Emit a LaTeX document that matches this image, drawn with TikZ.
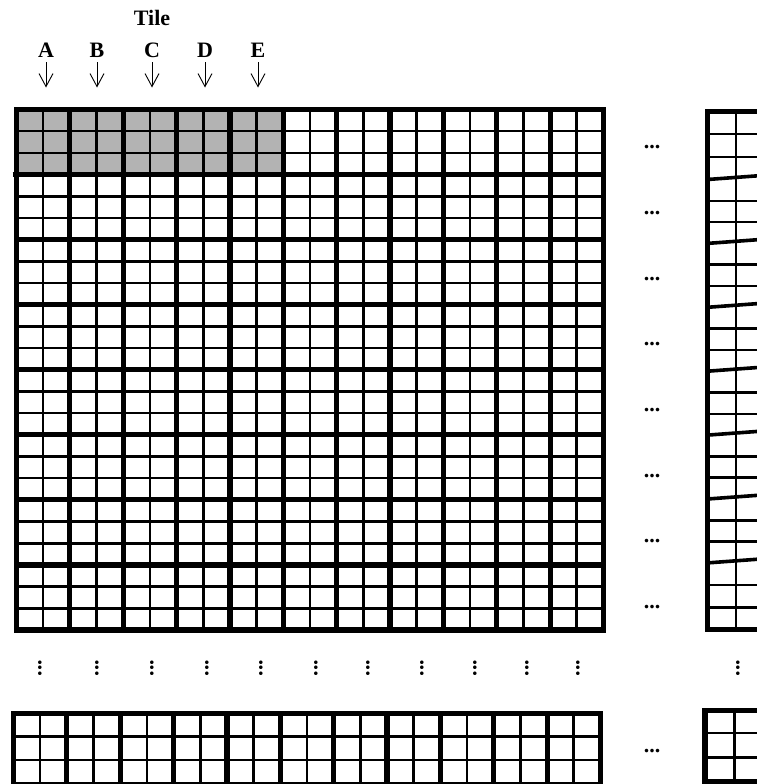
\documentclass[tikz,border=0pt]{standalone}
\usepackage{fontspec}
\setmainfont{Liberation Serif}
\usetikzlibrary{arrows.meta}
\definecolor{tilegray}{RGB}{179,179,179}
\begin{document}
\begin{tikzpicture}[x=1pt,y=-1pt,
  thinline/.style={line width=2.6pt},
  thickline/.style={line width=5.2pt},
  slantline/.style={line width=3.6pt},
  lbl/.style={font=\fontsize{22}{22}\selectfont\bfseries, inner sep=0pt, outer sep=5pt},
  dotstxt/.style={font=\fontsize{22}{22}\selectfont\bfseries, inner sep=0pt},
  arr/.style={line width=0.9pt, -{Straight Barb[length=13pt,width=14pt,line width=0.9pt]}},
  ]
\useasboundingbox (0,0) rectangle (757,784);
\clip (0,0) rectangle (757,784);
% title and tile labels
\node[lbl] (title) at (152,18) {Tile};
\foreach \n/\x in {A/46,B/97,C/152,D/205,E/258}{
  \node[lbl] (\n) at (\x,50) {\n};
  \coordinate (\n end) at (\x,87.5);
  \draw[arr] (\n) -- (\n end);
}
% main grid
\fill[tilegray] (16.5,109.5) rectangle ({16.5+5*53.36},{109.5+65.06});
\foreach \i in {0,...,10}
  \draw[thinline] ({16.5+(\i+0.5)*53.36},109.5) -- ++(0,520.5);
\foreach \j in {0,...,7}{
  \foreach \k in {1,2}
    \draw[thinline] (16.5,{109.5+(\j+\k/3)*65.06}) -- ++(587,0);
}
\foreach \i in {1,...,10}
  \draw[thickline] ({16.5+\i*53.36},109.5) -- ++(0,520.5);
\foreach \j in {2,...,7}
  \draw[thickline] (16.5,{109.5+\j*65.06}) -- ++(587,0);
\draw[thickline] (12.5,{109.5+65.06}) -- (603.5,{109.5+65.06});
\draw[thickline] (16.5,109.5) rectangle (603.5,630);
% row ellipses
\foreach \y [count=\r] in {147,213,279,344,410,476,541,607}
  \node[dotstxt] (e\r) at (652,\y) {...};
\node[dotstxt] (eb) at (652,751) {...};
% vertical dots
\foreach \x [count=\c] in {40,97,152,207,261,316,368,422,475,527,578,738}
  \node[dotstxt, rotate=90] (v\c) at (\x,668) {...};
% right partial grid
\draw[thinline] (736,111.5) -- (736,629.5);
\foreach \a/\b in {111.5/179.5,179.5/243.4,243.4/307.3,307.3/371.2,371.2/435.1,435.1/499,499/562.9,562.9/629.5}{
  \draw[thinline] (707.5,{\a+(\b-\a)/3}) -- (770,{\a+(\b-\a)/3});
  \draw[thinline] (707.5,{\a+2*(\b-\a)/3}) -- (770,{\a+2*(\b-\a)/3});
}
\foreach \y in {179.5,243.4,307.3,371.2,435.1,499,562.9}
  \draw[slantline] (707.5,\y) -- (770,{\y-4.6});
\draw[thickline] (770,111.5) -- (707.5,111.5) -- (707.5,629.5) -- (770,629.5);
% bottom strip
\foreach \i in {0,...,10}
  \draw[thinline] ({13.5+(\i+0.5)*53.36},713.5) -- ({13.5+(\i+0.5)*53.36},790);
\foreach \y in {736.5,760}
  \draw[thinline] (13.5,\y) -- (600.5,\y);
\foreach \i in {1,...,10}
  \draw[thickline] ({13.5+\i*53.36},713.5) -- ({13.5+\i*53.36},785);
\draw[thickline] (13.5,713.5) rectangle (600.5,785);
% bottom right box
\draw[thinline] (734.5,710.5) -- (734.5,781.5);
\foreach \y in {733,757.5}
  \draw[thinline] (705,\y) -- (770,\y);
\draw[thickline] (770,710.5) -- (705,710.5) -- (705,781.5) -- (770,781.5);
\end{tikzpicture}
\end{document}
